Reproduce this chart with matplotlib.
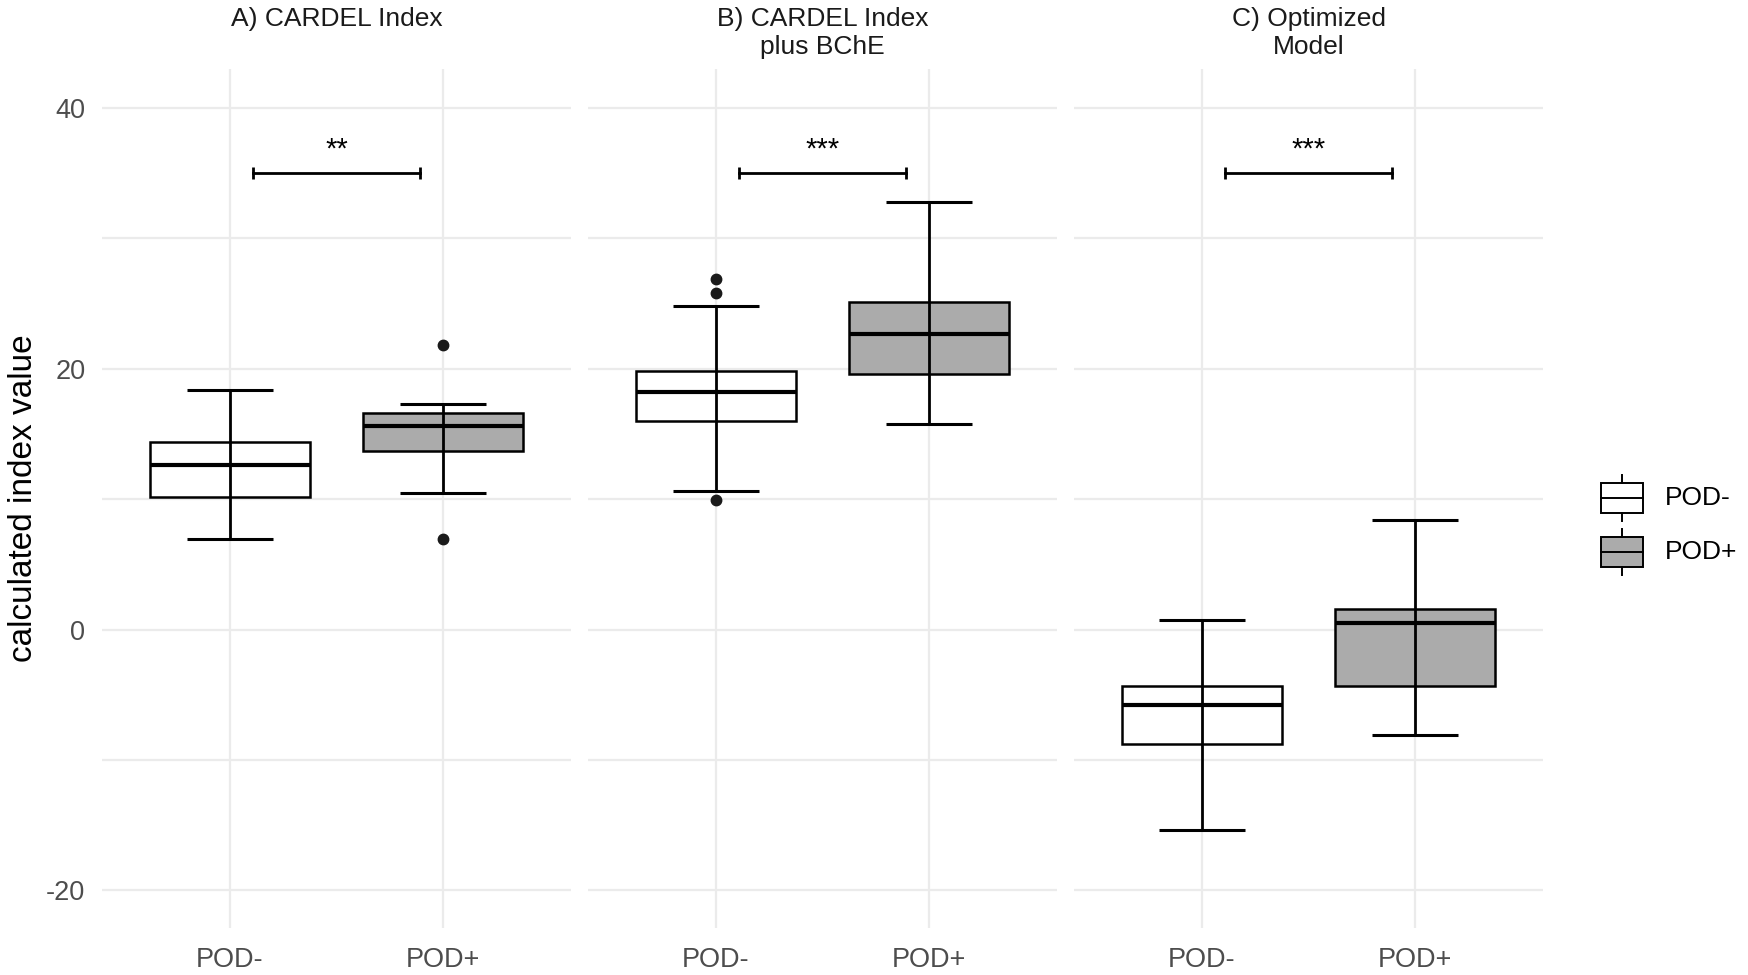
import numpy as np
import matplotlib
matplotlib.use('Agg')
import matplotlib.pyplot as plt
from matplotlib.patches import Rectangle

plt.rcParams['font.family'] = ['Liberation Sans', 'DejaVu Sans']
plt.rcParams['axes.unicode_minus'] = False

# panel titles, groups, box stats
panels = ['A) CARDEL Index', 'B) CARDEL Index\nplus BChE', 'C) Optimized\nModel']
groups = ['POD-', 'POD+']
q1 = [[10.2, 13.7], [16.0, 19.6], [-8.8, -4.3]]
med = [[12.6, 15.6], [18.2, 22.7], [-5.8, 0.5]]
q3 = [[14.4, 16.6], [19.8, 25.1], [-4.3, 1.6]]
wlo = [[6.95, 10.5], [10.6, 15.8], [-15.4, -8.1]]
whi = [[18.4, 17.3], [24.8, 32.8], [0.7, 8.4]]
outliers = [[[], [21.8, 6.95]], [[26.9, 25.8, 9.9], []], [[], []]]
signif = ['**', '***', '***']
sig_y = 35

fills = ['white', '#ABABAB']
grid_c = '#EBEBEB'
tick_c = '#4D4D4D'

W, H = 1748, 975
fig = plt.figure(figsize=(W / 100, H / 100), dpi=100)

lefts = [102, 588, 1074]
pw = 469
top, bot = 69, 928

for i, title in enumerate(panels):
    ax = fig.add_axes([lefts[i] / W, 1 - bot / H, pw / W, (bot - top) / H])
    x = np.arange(1, len(groups) + 1)

    stats = []
    for j in range(len(groups)):
        stats.append(dict(med=med[i][j], q1=q1[i][j], q3=q3[i][j],
                          whislo=med[i][j], whishi=med[i][j],
                          fliers=outliers[i][j]))
    bp = ax.bxp(stats, positions=x, widths=0.75, showcaps=False,
                patch_artist=True, showfliers=True,
                boxprops=dict(linewidth=1.8, edgecolor='black'),
                medianprops=dict(linewidth=3.0, color='black'),
                whiskerprops=dict(linewidth=0),
                flierprops=dict(marker='o', markersize=7.5,
                                markerfacecolor='#1A1A1A',
                                markeredgecolor='#1A1A1A'),
                zorder=2)
    for patch, fc in zip(bp['boxes'], fills):
        patch.set_facecolor(fc)

    m = np.array(med[i])
    lo = m - np.array(wlo[i])
    hi = np.array(whi[i]) - m
    ax.errorbar(x, m, yerr=[lo, hi], fmt='none', ecolor='black',
                elinewidth=2.0, capsize=31, capthick=2.2, zorder=3)

    # significance bracket
    ax.errorbar([1.11, 1.89], [sig_y, sig_y], yerr=0.45, fmt='none',
                ecolor='black', elinewidth=2.0, capsize=0, zorder=3)
    ax.plot([1.11, 1.89], [sig_y, sig_y], color='black', lw=2.0, zorder=3)
    ax.text(1.5, sig_y + 1.8, signif[i], ha='center', va='center',
            fontsize=21, color='black')

    ax.set_xlim(0.4, 2.6)
    ax.set_ylim(-22.9, 43.0)
    ax.set_yticks([-20, 0, 20, 40])
    ax.set_yticks([-10, 10, 30], minor=True)
    ax.set_xticks(x)
    ax.set_xticklabels(groups)
    ax.grid(True, which='both', axis='y', color=grid_c, lw=1.6, zorder=0)
    ax.grid(True, which='major', axis='x', color=grid_c, lw=1.6, zorder=0)
    ax.set_axisbelow(True)
    for s in ax.spines.values():
        s.set_visible(False)
    ax.tick_params(axis='both', which='both', length=0, labelsize=19.5,
                   labelcolor=tick_c)
    ax.tick_params(axis='x', pad=14)
    ax.tick_params(axis='y', pad=12)
    if i > 0:
        ax.tick_params(axis='y', labelleft=False)

    cx = (lefts[i] + pw / 2) / W
    for k, line in enumerate(title.split('\n')):
        fig.text(cx, 1 - (26 + 28 * k) / H, line, ha='center', va='baseline',
                 fontsize=19, color='#1A1A1A')

fig.text(24 / W, 1 - (top + bot) / 2 / H, 'calculated index value',
         rotation=90, ha='center', va='center', fontsize=24, color='black')

# legend
lg = fig.add_axes([0, 0, 1, 1])
lg.set_xlim(0, W)
lg.set_ylim(H, 0)
lg.axis('off')
for k, (g, fc) in enumerate(zip(groups, fills)):
    y0 = 483 + 54 * k
    lg.add_patch(Rectangle((1601, y0), 42, 30, facecolor=fc,
                           edgecolor='black', lw=1.4))
    lg.plot([1601, 1643], [y0 + 15, y0 + 15], color='black', lw=1.4)
    lg.plot([1622, 1622], [y0 - 8, y0], color='black', lw=1.4)
    lg.plot([1622, 1622], [y0 + 30, y0 + 38], color='black', lw=1.4)
    lg.text(1665, y0 + 15, g, ha='left', va='center', fontsize=19,
            color='black')

fig.savefig('out.png', dpi=100, facecolor='white')
